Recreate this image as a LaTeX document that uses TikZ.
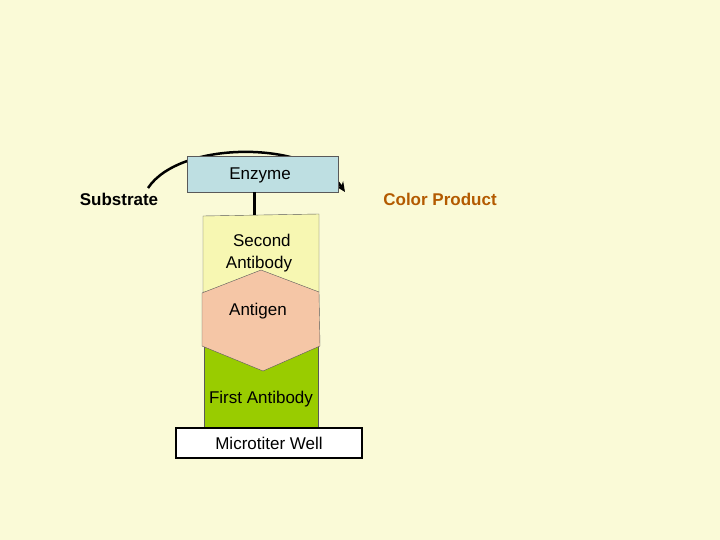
\documentclass[tikz,border=0pt]{standalone}
\usepackage{fontspec}
\setmainfont{Liberation Sans}
\usetikzlibrary{arrows.meta}
\definecolor{bgyellow}{HTML}{FAFAD7}
\definecolor{enzblue}{HTML}{BEDFE2}
\definecolor{abyellow}{HTML}{F7F7B2}
\definecolor{agpink}{HTML}{F5C6A6}
\definecolor{abgreen}{HTML}{99CC00}
\definecolor{prodbrown}{HTML}{B35A00}
\tikzset{
  part/.style={draw=gray!70!black, thin}, % outline of each layer
  txt/.style={font=\fontsize{17}{22}\selectfont, align=center},
}
\begin{document}
\begin{tikzpicture}[x=1pt, y=-1pt]
  \fill[bgyellow] (0,0) rectangle (720,540);
  \useasboundingbox (0,0) rectangle (720,540);
  % reaction arc (behind the enzyme)
  \coordinate (arcstart) at (148,188);
  \coordinate (arcend) at (345,192);
  \draw[line width=2.5pt, -{Stealth[length=10pt, width=9pt]}] (arcstart)
    .. controls (180,140) and (310,140) .. (arcend);
  % layers
  \draw[part, fill=abyellow] (203,216) -- (319,214) -- (319,292) -- (203,292) -- cycle;
  \draw[part, fill=abgreen] (204,340) rectangle (318,428);
  \draw[part, fill=agpink] (261,270) -- (319,292) -- (320,346) -- (263,371)
    -- (202,346) -- (202,293) -- cycle;
  \node[draw=gray!70!black, fill=enzblue, minimum width=151, minimum height=36,
    inner sep=0] (enzyme) at (262.5,174) {};
  \node[txt] at (260,175) {Enzyme};
  \coordinate (stemtop) at (254,192);
  \coordinate (stembot) at (254,215);
  \draw[line width=3pt] (stemtop) -- (stembot);
  \node[txt] (second) at (259,253) {\,\,Second\\Antibody};
  \node[txt] (antigen) at (258,311) {Antigen};
  \node[txt] (first) at (261,399) {First Antibody};
  \node[draw, line width=2pt, fill=white, minimum width=186, minimum height=30,
    inner sep=0, txt] (well) at (269,443) {Microtiter Well};
  \node[txt, font=\fontsize{17}{20}\selectfont\bfseries] (substrate) at (119,199) {Substrate};
  \node[txt, font=\fontsize{17}{20}\selectfont\bfseries, text=prodbrown] (product)
    at (440,199) {Color Product};
\end{tikzpicture}
\end{document}
